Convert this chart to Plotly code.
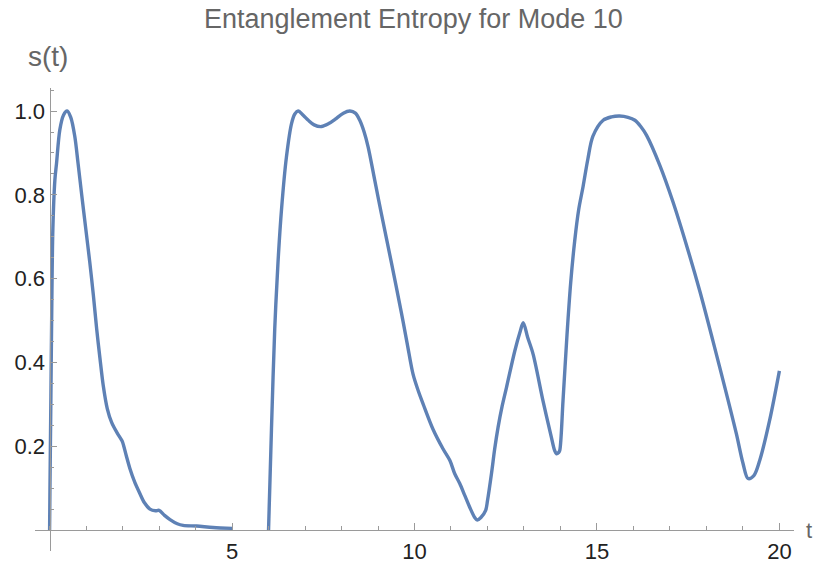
import plotly.graph_objects as go

# s(t) for mode 10: first branch on [0, 5], second branch on [6, 20]
t_first = [0, 0.01, 0.036, 0.063, 0.09, 0.145, 0.19, 0.28, 0.38, 0.48, 0.58, 0.69, 0.78, 0.88,
           0.99, 1.10, 1.20, 1.29, 1.38, 1.47, 1.58, 1.70, 1.85, 1.97, 2.0, 2.1, 2.2, 2.33,
           2.47, 2.6, 2.75, 2.9, 3.0, 3.15, 3.3, 3.5, 3.66, 4.03, 4.48, 5.0]
s_first = [0, 0.10, 0.32, 0.56, 0.72, 0.836, 0.875, 0.955, 0.99, 1.0, 0.985, 0.94, 0.875, 0.80,
           0.72, 0.64, 0.56, 0.48, 0.41, 0.345, 0.29, 0.257, 0.232, 0.215, 0.21, 0.178, 0.147, 0.115,
           0.088, 0.065, 0.05, 0.046, 0.047, 0.035, 0.025, 0.015, 0.011, 0.0095, 0.006, 0.004]

t_second = [6.0, 6.04, 6.08, 6.17, 6.26, 6.36, 6.49, 6.63, 6.72, 6.81, 6.95, 7.09, 7.25,
            7.45, 7.65, 7.82, 8.05, 8.23, 8.38, 8.5, 8.62, 8.73, 8.91, 9.09, 9.37, 9.64,
            9.8, 9.96, 10.1, 10.24, 10.51, 10.78, 10.97, 11.1, 11.24, 11.38, 11.51, 11.65,
            11.72, 11.82, 11.95, 12.0, 12.11, 12.2, 12.29, 12.4, 12.52, 12.75, 12.9, 12.98,
            13.1, 13.25, 13.52, 13.75, 13.84, 13.89, 13.95, 13.98, 14.07, 14.18, 14.28,
            14.39, 14.5, 14.62, 14.75, 14.89, 15.17, 15.4, 15.62, 15.85, 16.04, 16.2, 16.36,
            16.72, 17.08, 17.45, 17.82, 18.18, 18.55, 18.82, 19.0, 19.14, 19.3, 19.46,
            19.73, 20.0]
s_second = [0, 0.12, 0.24, 0.48, 0.64, 0.77, 0.89, 0.97, 0.993, 1.0, 0.99, 0.978, 0.967,
            0.963, 0.97, 0.98, 0.995, 1.0, 0.995, 0.978, 0.95, 0.914, 0.835, 0.756, 0.637, 0.519,
            0.445, 0.372, 0.333, 0.30, 0.24, 0.194, 0.166, 0.135, 0.111, 0.082, 0.055, 0.03,
            0.024, 0.03, 0.047, 0.07, 0.135, 0.195, 0.245, 0.295, 0.34, 0.428, 0.475, 0.495,
            0.46, 0.42, 0.309, 0.222, 0.19, 0.182, 0.185, 0.19, 0.309, 0.467, 0.59,
            0.69, 0.765, 0.82, 0.885, 0.94, 0.978, 0.986, 0.988, 0.985, 0.978, 0.963, 0.942,
            0.871, 0.784, 0.681, 0.57, 0.451, 0.325, 0.23, 0.16, 0.123, 0.13, 0.166,
            0.261, 0.38]

x_major = [5, 10, 15, 20]
y_major = [0.2, 0.4, 0.6, 0.8, 1.0]
y_labels = ["0.2", "0.4", "0.6", "0.8", "1.0"]

X_RANGE = [-0.4, 20.4]
Y_RANGE = [-0.05, 1.055]

LINE_BLUE = "#5E81B5"
AXIS_GRAY = "#9a9a9a"
FONT = "Liberation Sans, Arial, sans-serif"

t_all = t_first + [None] + t_second
s_all = s_first + [None] + s_second

fig = go.Figure(go.Scatter(
    x=t_all, y=s_all, mode="lines",
    line=dict(color=LINE_BLUE, width=3.4, shape="spline", smoothing=0.9),
    connectgaps=False, hoverinfo="skip",
))

x_pos = (0 - Y_RANGE[0]) / (Y_RANGE[1] - Y_RANGE[0])
y_pos = (0 - X_RANGE[0]) / (X_RANGE[1] - X_RANGE[0])

fig.update_layout(
    width=815, height=563,
    margin=dict(l=35, r=21, t=88, b=12, autoexpand=False),
    paper_bgcolor="white", plot_bgcolor="white",
    showlegend=False,
    font=dict(family=FONT, color="#222222", size=22),
    xaxis=dict(
        range=X_RANGE, anchor="free", position=x_pos, automargin=False,
        showgrid=False, zeroline=False,
        showline=True, linecolor=AXIS_GRAY, linewidth=1.2,
        ticks="inside", ticklen=7, tickwidth=1.2, tickcolor=AXIS_GRAY,
        tickvals=x_major, ticktext=[str(v) for v in x_major],
        tickfont=dict(size=22, color="#222222"), ticklabelstandoff=1,
        minor=dict(ticks="inside", ticklen=4, tickwidth=1, tickcolor=AXIS_GRAY,
                   dtick=1, tick0=0, showgrid=False),
    ),
    yaxis=dict(
        range=Y_RANGE, anchor="free", position=y_pos, automargin=False,
        showgrid=False, zeroline=False,
        showline=True, linecolor=AXIS_GRAY, linewidth=1.2,
        ticks="inside", ticklen=6, tickwidth=1.2, tickcolor=AXIS_GRAY,
        tickvals=y_major, ticktext=y_labels,
        tickfont=dict(size=22, color="#222222"),
        minor=dict(ticks="inside", ticklen=3.5, tickwidth=1, tickcolor=AXIS_GRAY,
                   dtick=0.05, tick0=0, showgrid=False),
    ),
    annotations=[
        dict(text="Entanglement Entropy for Mode 10", xref="paper", yref="paper",
             x=(413.5 - 35) / 759, y=(551 - 19) / 463, xanchor="center", yanchor="middle",
             showarrow=False, font=dict(family=FONT, size=27, color="#666666")),
        dict(text="s(t)", xref="paper", yref="paper",
             x=(48 - 35) / 759, y=(551 - 56) / 463, xanchor="center", yanchor="middle",
             showarrow=False, font=dict(family=FONT, size=28, color="#666666")),
        dict(text="t", xref="paper", yref="paper",
             x=(804 - 35) / 759, y=(551 - 530) / 463, xanchor="left", yanchor="middle",
             showarrow=False, font=dict(family=FONT, size=22, color="#666666")),
    ],
)

fig.write_html("out.html")
